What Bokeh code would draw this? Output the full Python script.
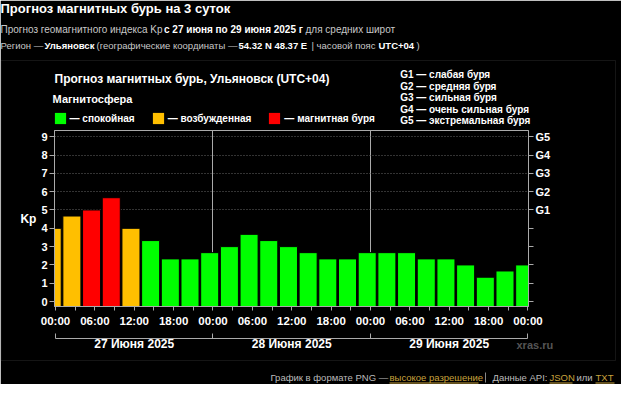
from bokeh.plotting import figure
from bokeh.models import (Range1d, FixedTicker, LinearAxis, Label, BoxAnnotation,
                          Legend, LegendItem, ColumnDataSource, GridBox, Column)
from bokeh.embed import file_html
from bokeh.resources import INLINE

# ---------------- data ----------------
# start of each 3-hour forecast slot, local hours from 27 June 00:00 (UTC+04)
slot_start_h = [-2, 1, 4, 7, 10, 13, 16, 19, 22, 25, 28, 31, 34, 37, 40, 43,
                46, 49, 52, 55, 58, 61, 64, 67, 70]
kp = [4.00, 4.67, 5.00, 5.67, 4.00, 3.33, 2.33, 2.33, 2.67, 3.00, 3.67, 3.33,
      3.00, 2.67, 2.33, 2.33, 2.67, 2.67, 2.67, 2.33, 2.33, 2.00, 1.33, 1.67, 2.00]
kp_ticks = [0, 1, 2, 3, 4, 5, 6, 7, 8, 9]
g_kp = [5, 6, 7, 8, 9]
g_levels = ["G1", "G2", "G3", "G4", "G5"]
g_names = ["слабая буря", "средняя буря", "сильная буря", "очень сильная буря",
           "экстремальная буря"]
hour_ticks = [0, 6, 12, 18, 24, 30, 36, 42, 48, 54, 60, 66, 72]
hour_minor = [3, 9, 15, 21, 27, 33, 39, 45, 51, 57, 63, 69]
hour_labels = ["00:00", "06:00", "12:00", "18:00", "00:00", "06:00", "12:00",
               "18:00", "00:00", "06:00", "12:00", "18:00", "00:00"]
day_bounds = [0, 24, 48, 72]
day_mid = [12, 36, 60]
day_labels = ["27 Июня 2025", "28 Июня 2025", "29 Июня 2025"]
state_names = ["— спокойная", "— возбужденная", "— магнитная буря"]
state_colors = ["#00ff00", "#ffbf00", "#ff0000"]
state_limits = [4, 5]

F = "Liberation Sans"
WHITE = "#ffffff"
GRAY = "#aaaaaa"

def state_of(v):
    if v < state_limits[0]:
        return 0
    if v < state_limits[1]:
        return 1
    return 2

src = ColumnDataSource(dict(
    x=[s + 1.5 for s in slot_start_h],
    top=kp,
    color=[state_colors[state_of(v)] for v in kp],
))

W, H = 621, 384
# ---------------- chart figure ----------------
p = figure(width=W, height=H, output_backend="svg", toolbar_location=None,
           x_range=Range1d(-0.15, 72.08), y_range=Range1d(-0.27, 9.34),
           min_border_left=54, min_border_right=93, min_border_top=130,
           min_border_bottom=78)
p.background_fill_color = "black"
p.border_fill_color = "black"
p.outline_line_color = GRAY

p.vbar(x="x", top="top", bottom=-1, width=2.75, fill_color="color",
       line_color="black", line_width=1, source=src)

p.xgrid.ticker = FixedTicker(ticks=day_bounds[1:-1])
p.xgrid.grid_line_color = GRAY
p.ygrid.ticker = FixedTicker(ticks=g_kp)
p.ygrid.grid_line_color = "#666666"
p.ygrid.grid_line_dash = "1 2"

def style_axis(a, size):
    a.axis_line_color = GRAY
    a.major_tick_line_color = GRAY
    a.major_label_text_font = F
    a.major_label_text_font_size = size
    a.major_label_text_font_style = "bold"
    a.major_label_text_color = WHITE

ya = p.yaxis[0]
ya.ticker = FixedTicker(ticks=kp_ticks, minor_ticks=[])
style_axis(ya, "11px")
ya.major_tick_out = 5
ya.major_tick_in = 0
ya.major_label_standoff = 2
ya.axis_label = "Kp"
ya.axis_label_orientation = "horizontal"
ya.axis_label_standoff = 2
ya.axis_label_text_font = F
ya.axis_label_text_font_size = "12px"
ya.axis_label_text_font_style = "bold"
ya.axis_label_text_color = WHITE

ra = LinearAxis(ticker=FixedTicker(ticks=kp_ticks, minor_ticks=[]),
                major_label_overrides={k: (g_levels[g_kp.index(k)] if k in g_kp else "")
                                       for k in kp_ticks})
style_axis(ra, "11px")
ra.major_tick_out = 5
ra.major_tick_in = 0
ra.major_label_standoff = 2
p.add_layout(ra, "right")

xa = p.xaxis[0]
xa.ticker = FixedTicker(ticks=hour_ticks, minor_ticks=hour_minor)
xa.major_label_overrides = {t: l for t, l in zip(hour_ticks, hour_labels)}
style_axis(xa, "11.5px")
xa.minor_tick_line_color = GRAY
xa.major_tick_out = 4
xa.major_tick_in = 0
xa.minor_tick_out = 4
xa.minor_tick_in = 0
xa.major_label_standoff = 4
xa.axis_label = " "
xa.axis_label_standoff = 0
xa.axis_label_text_font_size = "5px"

da = LinearAxis(ticker=FixedTicker(ticks=day_mid, minor_ticks=day_bounds),
                major_label_overrides={t: l for t, l in zip(day_mid, day_labels)},
                bounds=(day_bounds[0], day_bounds[-1]))
style_axis(da, "12px")
da.major_tick_line_color = None
da.major_tick_out = 0
da.major_tick_in = 0
da.minor_tick_line_color = GRAY
da.minor_tick_in = 5
da.minor_tick_out = 0
da.major_label_standoff = -2
p.add_layout(da, "below")

# ---------------- overlay figure for page texts (page pixel coordinates) ----------------
d = figure(width=W, height=H, output_backend="svg", toolbar_location=None,
           x_range=Range1d(8, 8 + W), y_range=Range1d(8 + H, 8),
           min_border=0, x_axis_location=None, y_axis_location=None)
d.grid.visible = False
d.outline_line_color = None
d.background_fill_alpha = 0
d.border_fill_alpha = 0

def lab(text, px, py, size, color=WHITE, bold=False, font=F):
    d.add_layout(Label(x=px, y=py, text=text, text_font=font, text_font_size=f"{size}px",
                       text_font_style="bold" if bold else "normal",
                       text_color=color, text_align="left", text_baseline="middle"))

def box(x0, y0, x1, y1, fill=None, line=None):
    d.add_layout(BoxAnnotation(left=x0, right=x1, top=y0, bottom=y1,
                               fill_color=fill, fill_alpha=1 if fill else 0,
                               line_color=line, line_width=1, level="overlay"))

LIGHT = "#c8c8c8"
lab("Прогноз магнитных бурь на 3 суток", 8, 16, 13, bold=True)
lab("Прогноз геомагнитного индекса Kp", 8, 37, 10, LIGHT)
lab("с 27 июня по 29 июня 2025 г", 171.5, 37, 10, bold=True)
lab("для средних широт", 313, 37, 10, LIGHT)
lab("Регион —", 8, 53, 9.5, LIGHT)
lab("Ульяновск", 52, 53, 9.5, bold=True)
lab("(географические координаты —", 104, 53, 9.5, LIGHT)
lab("54.32 N 48.37 E", 246, 53, 9.5, bold=True)
lab("| часовой пояс", 319, 53, 9.5, LIGHT)
lab("UTC+04", 386, 53, 9.5, bold=True)
lab(")", 424, 53, 9.5, LIGHT)

box(8.5, 68, 623, 368, line="#444444")

lab("Прогноз магнитных бурь, Ульяновск (UTC+04)", 62, 86, 12, bold=True)
for i, (g, n) in enumerate(zip(g_levels, g_names)):
    lab(f"{g} — {n}", 407.7, 82.3 + 11.5 * i, 10, bold=True)

NAN = float("nan")
items = []
for name, c in zip(state_names, state_colors):
    r = d.rect(x=[NAN], y=[NAN], width=1, height=1, fill_color=c, line_color=None)
    items.append(LegendItem(label=name, renderers=[r], index=0))
leg = Legend(items=items, orientation="horizontal", location=(62 - 8 - 1.4, 8 + H - 133),
             title="Магнитосфера", title_text_font=F, title_text_font_size="11px",
             title_text_font_style="bold", title_text_color=WHITE, title_standoff=6,
             label_text_font=F, label_text_font_size="10px",
             label_text_font_style="bold", label_text_color=WHITE,
             glyph_width=14, glyph_height=14, label_height=14, label_standoff=3,
             spacing=16, padding=0, margin=0, border_line_color=None,
             background_fill_alpha=0)
d.add_layout(leg, "center")

lab("xras.ru", 524, 352, 11, "#555555", bold=True)

GOLD = "#c8a23c"
FOOT = "#bbbbbb"
FY = 385
lab("График в формате PNG —", 278, FY, 9.5, FOOT)
lab("высокое разрешение", 397, FY, 9.5, GOLD)
box(492.5, FY - 5, 493.5, FY + 5, fill="#888888")
lab("Данные API:", 500, FY, 9.5, FOOT)
lab("JSON", 557, FY, 9.5, GOLD)
lab("или", 584, FY, 9.5, FOOT)
lab("TXT", 603, FY, 9.5, GOLD)
box(397, FY + 5, 486, FY + 6, fill=GOLD)
box(557, FY + 5, 580, FY + 6, fill=GOLD)
box(603, FY + 5, 622, FY + 6, fill=GOLD)

layout = GridBox(children=[(p, 0, 0), (Column(children=[d]), 0, 0)])
open("out.html", "w").write(file_html(layout, INLINE))
